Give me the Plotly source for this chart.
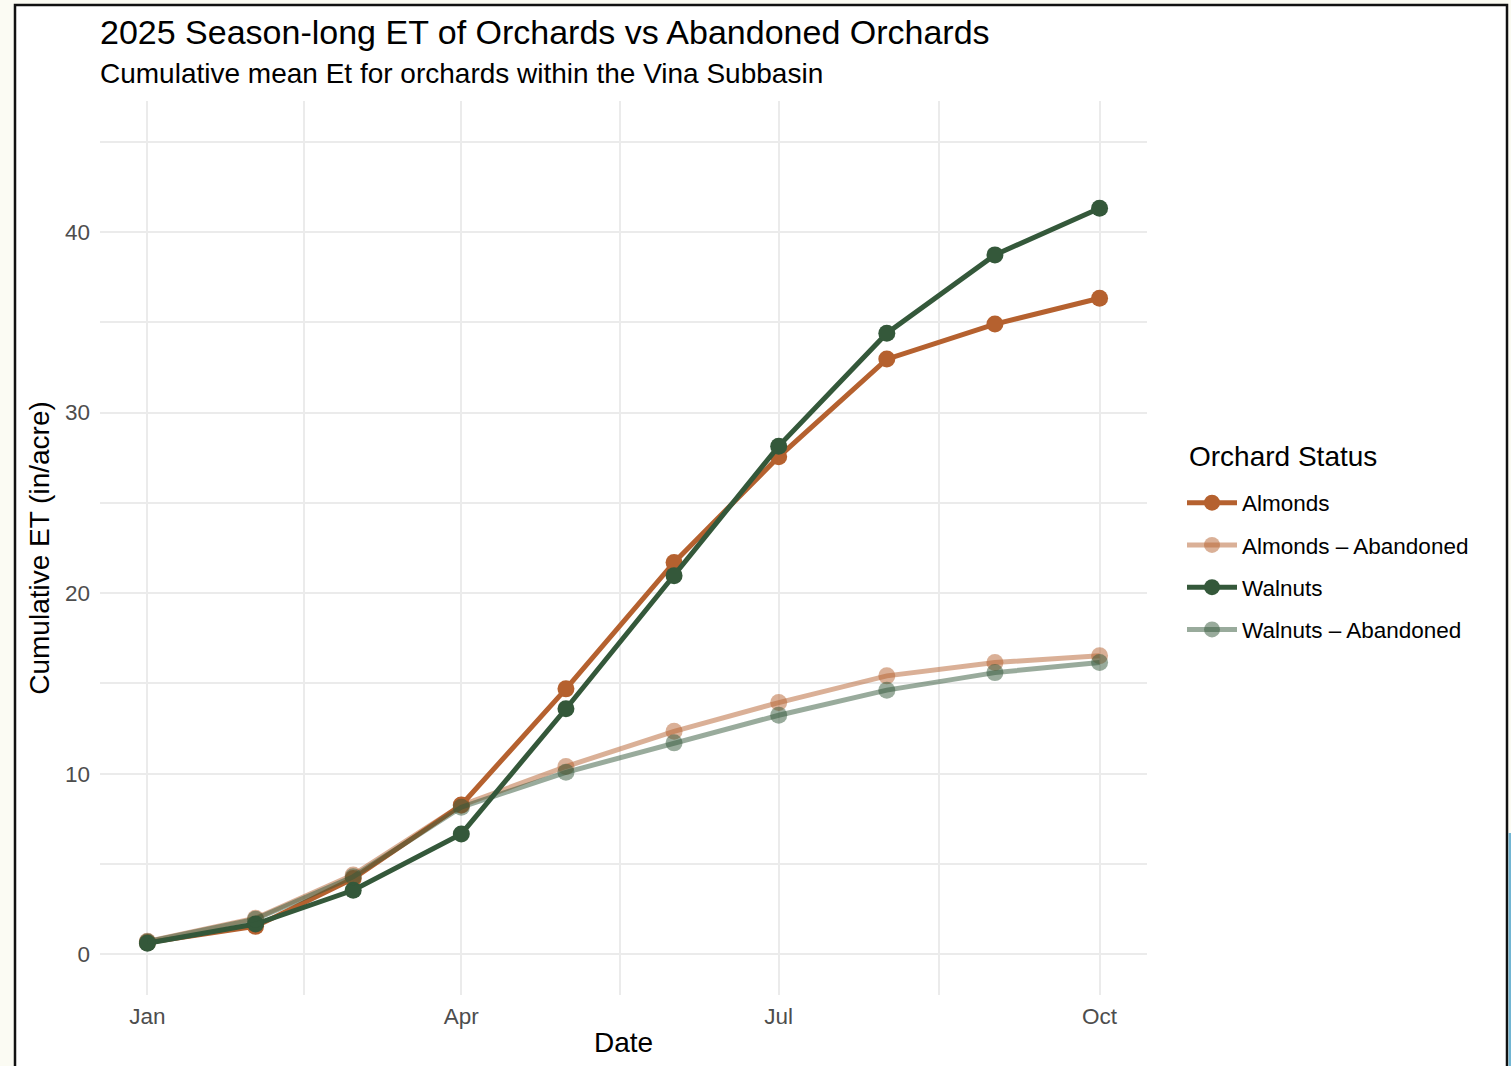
import plotly.graph_objects as go

# ---------------- data ----------------
dates = ["2025-01-01", "2025-02-01", "2025-03-01", "2025-04-01", "2025-05-01",
         "2025-06-01", "2025-07-01", "2025-08-01", "2025-09-01", "2025-10-01"]
almonds = [0.65, 1.55, 4.2, 8.27, 14.7, 21.7, 27.55, 32.96, 34.9, 36.33]
almonds_abandoned = [0.72, 2.0, 4.4, 8.25, 10.4, 12.35, 13.94, 15.42, 16.16, 16.53]
walnuts = [0.62, 1.68, 3.55, 6.67, 13.6, 20.97, 28.14, 34.39, 38.73, 41.31]
walnuts_abandoned = [0.7, 1.95, 4.3, 8.15, 10.08, 11.71, 13.24, 14.63, 15.6, 16.16]

series_names = ["Almonds", "Almonds \u2013 Abandoned", "Walnuts", "Walnuts \u2013 Abandoned"]
series_values = [almonds, almonds_abandoned, walnuts, walnuts_abandoned]

x_tick_labels = ["Jan", "Apr", "Jul", "Oct"]
x_tick_dates = ["2025-01-01", "2025-04-01", "2025-07-01", "2025-10-01"]
x_minor_dates = ["2025-02-15", "2025-05-16 12:00", "2025-08-16"]
y_tick_vals = [0, 10, 20, 30, 40]
y_minor_vals = [5, 15, 25, 35, 45]

title_text = "2025 Season-long ET of Orchards vs Abandoned Orchards"
subtitle_text = "Cumulative mean Et for orchards within the Vina Subbasin"
legend_title = "Orchard Status"

# ---------------- styling ----------------
W, H = 1511, 1066
ML, MR, MT, MB = 100, 364, 101, 71
PW, PH = W - ML - MR, H - MT - MB
FONT = "Liberation Sans, Arial, Helvetica, sans-serif"

ORANGE = (181, 97, 47)
GREEN = (52, 88, 58)


def rgba(c, a):
    return f"rgba({c[0]},{c[1]},{c[2]},{a})"


styles = [(ORANGE, 1.0), (ORANGE, 0.5), (GREEN, 1.0), (GREEN, 0.5)]


def px(x):
    return (x - ML) / PW


def py(y):
    return (H - MB - y) / PH


fig = go.Figure()
for i, (name, vals) in enumerate(zip(series_names, series_values)):
    col, a = styles[i]
    fig.add_trace(go.Scatter(
        x=dates, y=vals, name=name, mode="lines+markers",
        legendgroup=f"g{i}",
        line=dict(color=rgba(col, a), width=5),
        marker=dict(color=rgba(col, a), size=17, line=dict(width=0)),
    ))

fig.update_layout(
    width=W, height=H,
    margin=dict(l=ML, r=MR, t=MT, b=MB, autoexpand=False),
    paper_bgcolor="#fbfbf3",
    plot_bgcolor="rgba(0,0,0,0)",
    font=dict(family=FONT, color="black"),
    title=dict(text=title_text, font=dict(size=34, color="black", family=FONT),
               xref="paper", x=px(100), xanchor="left",
               yref="container", y=1 - 32 / H, yanchor="middle"),
    showlegend=True,
    legend=dict(
        font=dict(size=22.5, color="black"),
        x=px(1182), xanchor="left", xref="paper",
        y=py(481.5), yanchor="top", yref="paper",
        itemwidth=50, tracegroupgap=10,
        bgcolor="rgba(0,0,0,0)",
    ),
    xaxis=dict(
        type="date",
        range=["2024-12-18 09:36", "2025-10-14 14:24"],
        tickmode="array", tickvals=x_tick_dates, ticktext=x_tick_labels,
        showgrid=True, gridcolor="#ebebeb", gridwidth=2.2,
        minor=dict(tickmode="array", tickvals=x_minor_dates, showgrid=True,
                   gridcolor="#ebebeb", gridwidth=1.6),
        zeroline=False, showline=False, ticks="",
        tickfont=dict(size=22.5, color="#4d4d4d"),
        ticklabelstandoff=5,
        title=dict(text="Date", font=dict(size=28, color="black"), standoff=4),
        automargin=False,
    ),
    yaxis=dict(
        range=[-2.25, 47.25],
        tickmode="array", tickvals=y_tick_vals,
        showgrid=True, gridcolor="#ebebeb", gridwidth=2.2,
        minor=dict(tickmode="array", tickvals=y_minor_vals, showgrid=True,
                   gridcolor="#ebebeb", gridwidth=1.6),
        zeroline=False, showline=False, ticks="",
        tickfont=dict(size=22.5, color="#4d4d4d"),
        ticklabelstandoff=9,
        title=dict(text="Cumulative ET (in/acre)", font=dict(size=28, color="black"), standoff=7),
        automargin=False,
    ),
    annotations=[
        dict(text=subtitle_text, xref="paper", yref="paper",
             x=px(98), y=py(74), xanchor="left", yanchor="middle",
             showarrow=False, font=dict(size=28, color="black", family=FONT)),
        dict(text=legend_title, xref="paper", yref="paper",
             x=px(1187), y=py(456), xanchor="left", yanchor="middle",
             showarrow=False, font=dict(size=28, color="black", family=FONT)),
    ],
    shapes=[
        dict(type="rect", xref="paper", yref="paper", layer="below",
             x0=px(15), x1=px(1507), y0=py(1080), y1=py(5),
             line=dict(color="#111111", width=2.5), fillcolor="white"),
        dict(type="rect", xref="paper", yref="paper", layer="below",
             x0=px(1508.5), x1=px(1512), y0=py(1070), y1=py(833),
             line=dict(width=0), fillcolor="#72b5d2"),
    ],
)

fig.write_html("out.html", config={"displayModeBar": False},
               post_script="document.body.style.margin='0';document.body.style.overflow='hidden';")
